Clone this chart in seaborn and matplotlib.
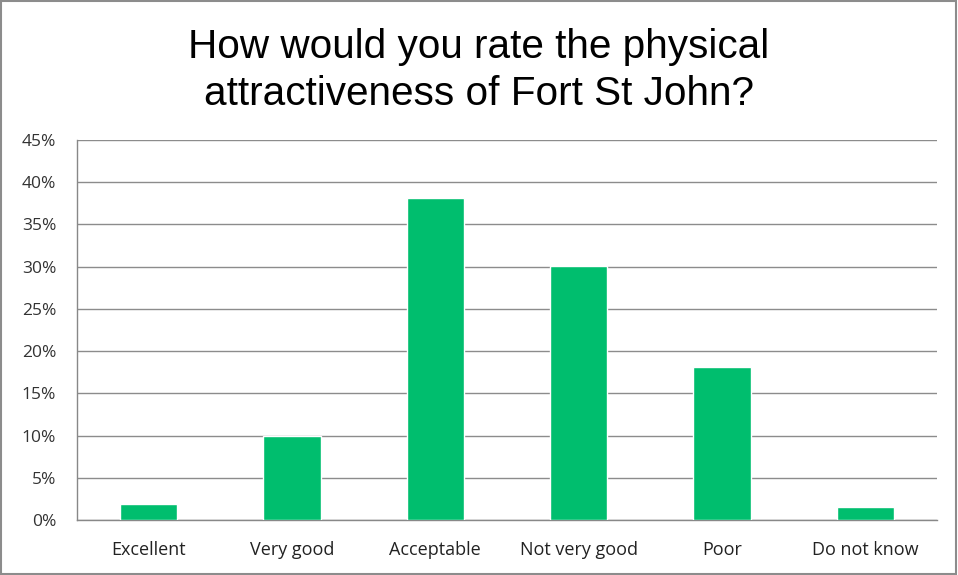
import matplotlib
matplotlib.use("Agg")
import matplotlib.pyplot as plt
import seaborn as sns
import pandas as pd
import numpy as np
from matplotlib.patches import Rectangle

categories = ["Excellent", "Very good", "Acceptable", "Not very good", "Poor", "Do not know"]
values = [1.9, 10.0, 38.1, 30.1, 18.1, 1.5]
y_ticks = [0, 5, 10, 15, 20, 25, 30, 35, 40, 45]
y_tick_labels = [f"{v}%" for v in y_ticks]
title = "How would you rate the physical\nattractiveness of Fort St John?"

sns.set_style("white")
plt.rcParams['font.family'] = ['Liberation Sans', 'DejaVu Sans']

df = pd.DataFrame({"cat": categories, "val": values})

fig = plt.figure(figsize=(9.58, 5.75), dpi=100)
ax = fig.add_axes([0.0804, 0.0957, 0.8976, 0.6608])

sns.barplot(data=df, x="cat", y="val", color="#00BE6E", width=0.4, saturation=1, ax=ax, zorder=3)

ax.set_ylim(0, 45)
ax.set_xlim(-0.5, len(categories) - 0.5)
ax.set_yticks(y_ticks)
ax.set_yticklabels(y_tick_labels, fontfamily="Open Sans", fontsize=12.5, color="#333333")
ax.set_xticks(range(len(categories)))
ax.set_xticklabels(categories, fontfamily="Open Sans", fontsize=13, color="#222222")
ax.set_xticks(np.arange(-0.5, len(categories), 1), minor=True)
ax.tick_params(axis="x", which="major", length=0, pad=15)
ax.tick_params(axis="x", which="minor", length=5, color="#888888", width=1, direction="out")
ax.tick_params(axis="y", length=7, color="#888888", width=1, direction="out", pad=8)
ax.set_xlabel("")
ax.set_ylabel("")

ax.grid(axis="y", color="#8c8c8c", linewidth=1, zorder=0)
ax.set_axisbelow(True)
for s in ["top", "right"]:
    ax.spines[s].set_visible(False)
for s in ["left", "bottom"]:
    ax.spines[s].set_color("#888888")
    ax.spines[s].set_linewidth(1)

fig.text(0.5, 0.878, title, ha="center", va="center", fontsize=29.2, linespacing=1.3, color="black")

fig.patches.append(Rectangle((0.001, 0.002), 0.997, 0.996, transform=fig.transFigure,
                             fill=False, edgecolor="#8c8c8c", linewidth=1.5))

fig.savefig("out.png", dpi=100)
